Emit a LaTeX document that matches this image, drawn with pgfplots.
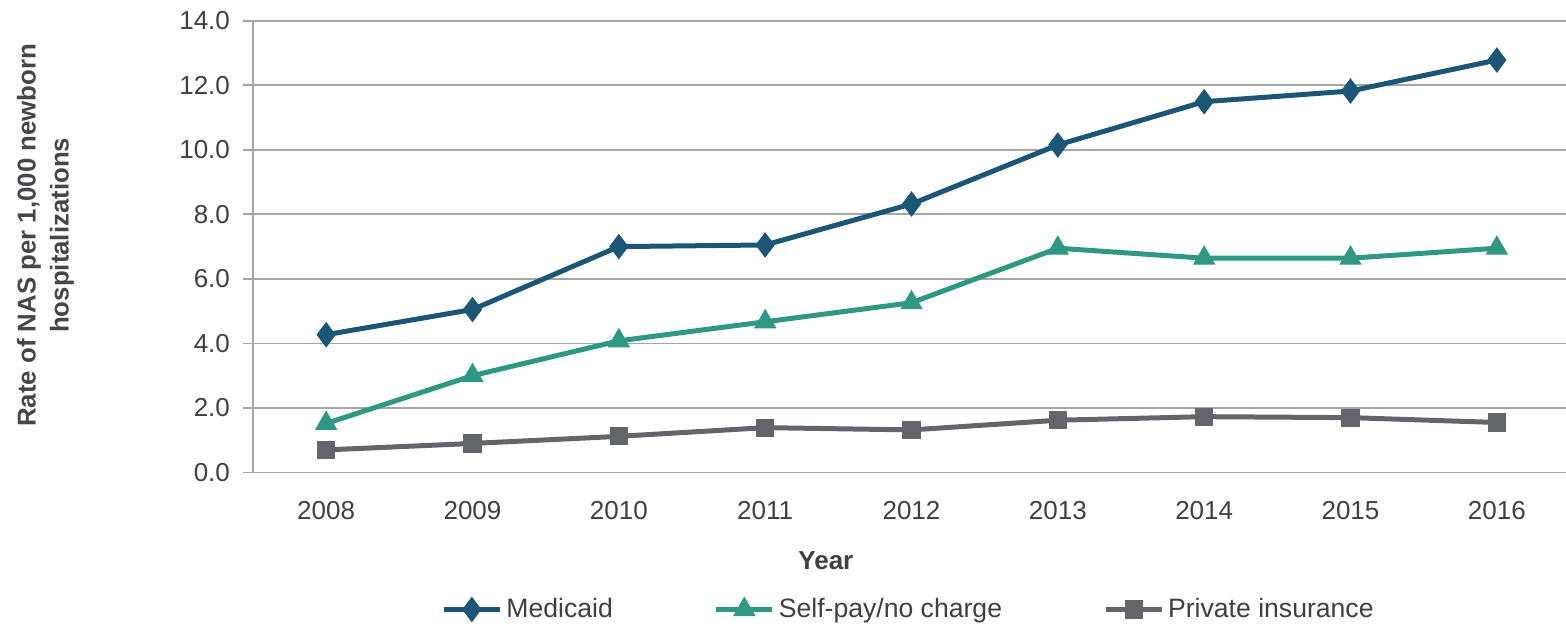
\documentclass[border=0pt]{standalone}
\usepackage{pgfplots}
\pgfplotsset{compat=1.18}
\usepackage{fontspec}
\setmainfont{Liberation Sans}
\definecolor{medc}{HTML}{1B5676}
\definecolor{selfc}{HTML}{2E9882}
\definecolor{privc}{HTML}{64656A}
\definecolor{gridc}{HTML}{A6A6A6}
\definecolor{txtc}{HTML}{3F3F46}
\definecolor{labc}{HTML}{45464C}
\begin{document}
\begin{tikzpicture}
\begin{axis}[
  scale only axis,
  width=658.5pt, height=225.9pt,
  xmin=-0.5, xmax=8.5,
  ymin=0, ymax=14,
  xtick={0,...,8},
  xticklabels={2008,2009,2010,2011,2012,2013,2014,2015,2016},
  minor xtick={-0.5,0.5,...,8.5},
  ytick={0,2,...,14},
  yticklabel={\pgfmathprintnumber[fixed,fixed zerofill,precision=1]{\tick}},
  /pgf/number format/assume math mode=true,
  axis x line*=bottom,
  axis y line*=left,
  axis line style={gridc, line width=0.9pt},
  every tick/.style={gridc, line width=0.9pt},
  major tick length=5pt,
  minor tick length=5pt,
  tick align=outside,
  x tick style={draw=none},
  minor x tick style={gridc, line width=0.9pt},
  ymajorgrids,
  major grid style={gridc, line width=0.9pt},
  ticklabel style={font=\fontsize{13}{15}\selectfont, text=txtc},
  yticklabel style={xshift=-3pt},
  xticklabel style={yshift=-6pt},
  xlabel={Year},
  xlabel style={font=\bfseries\fontsize{13}{15}\selectfont, text=txtc, at={(axis description cs:0.435,0)}, anchor=center, yshift=-44pt},
  ylabel={Rate of NAS per 1,000 newborn\\hospitalizations},
  ylabel style={font=\bfseries\fontsize{12.9}{16.5}\selectfont, text=labc, align=center, at={(axis description cs:-0.1575,0.525)}, anchor=center},
  legend style={at={(axis description cs:0.5,0)}, anchor=center, xshift=-1pt, yshift=-68.5pt, draw=none, legend columns=3, font=\fontsize{13.3}{15}\selectfont, text=txtc, /tikz/every even column/.append style={column sep=48.5pt}},
  legend cell align=left,
  legend image code/.code={\draw[#1, line width=2.5pt] (0pt,0pt) -- (28pt,0pt); \path[#1, mark repeat=1] plot coordinates {(14pt,0pt)};},
  clip=false,
]
\addplot[medc, line width=2.5pt, mark=diamond*, mark size=6pt, mark options={solid, fill=medc, line width=0.5pt}] coordinates {
 (0,4.27) (1,5.05) (2,7.0) (3,7.05) (4,8.32) (5,10.15) (6,11.49) (7,11.82) (8,12.78)};
\addlegendentry{Medicaid}
\addplot[selfc, line width=2.5pt, mark=triangle*, mark size=6pt, mark options={solid, fill=selfc, line width=0.5pt}] coordinates {
 (0,1.52) (1,3.0) (2,4.08) (3,4.67) (4,5.26) (5,6.95) (6,6.64) (7,6.64) (8,6.95)};
\addlegendentry{Self-pay/no charge}
\addplot[privc, line width=2.5pt, mark=square*, mark size=4.3pt, mark options={solid, fill=privc, line width=0.5pt}] coordinates {
 (0,0.70) (1,0.90) (2,1.12) (3,1.39) (4,1.32) (5,1.62) (6,1.73) (7,1.70) (8,1.55)};
\addlegendentry{Private insurance}
\end{axis}
\pgfresetboundingbox
\path (-126.5pt,-76.5pt) rectangle (656.5pt,236.25pt);
\end{tikzpicture}
\end{document}
